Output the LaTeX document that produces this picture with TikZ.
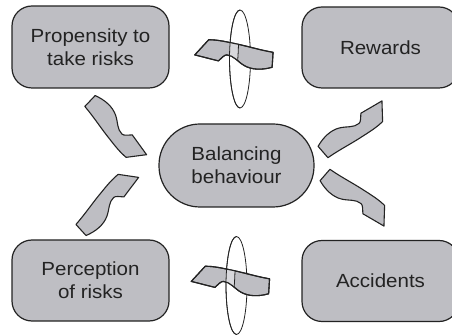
\documentclass[tikz,border=0pt]{standalone}
\usepackage{fontspec}
\setmainfont[FakeStretch=1.08]{Liberation Sans}
\usepackage{tikz}
\usepackage{xcolor}
\usetikzlibrary{positioning}

\definecolor{boxgray}{RGB}{190,190,195}
\definecolor{loopgray}{RGB}{216,216,220}
\definecolor{inkgray}{RGB}{35,35,35}

% wavy block arrow, tail at the origin, tip at (78,0)
\newcommand{\wavepath}{(0,-7.5) .. controls (10,-11) and (20,-11.5) .. (28,-7.5)
  .. controls (35,-4) and (39,2) .. (46,2) .. controls (48.5,2) and (51,-1.5) .. (54,-4.5)
  -- (78,0) -- (65,16) .. controls (57,16.5) and (50,15.5) .. (40,14)
  .. controls (28,12.5) and (14,9) .. (0,7.5) -- cycle}

\tikzset{
  arrow body/.style={fill=boxgray, draw=inkgray, line width=1.1pt, line join=round},
  arrow outline/.style={draw=inkgray, line width=1.1pt, line join=round},
  loop ring/.style={draw=inkgray, line width=0.8pt},
  wave arrow/.pic={\filldraw[arrow body] \wavepath;},
  loop arrow/.pic={
    % ring behind the band
    \draw[loop ring] (0,0) ellipse [x radius=10.5, y radius=49];
    \pic[rotate=176.4] at (32.6,0.8) {wave arrow};
    % lighter strip inside the ring
    \begin{scope}
      \clip[shift={(32.6,0.8)}, rotate=176.4] \wavepath;
      \clip (0,0) ellipse [x radius=10.5, y radius=49];
      \fill[loopgray] (-12,-30) -- (-1.6,-30) .. controls (-1.2,-10) and (-2,-3) .. (-3,10) -- (-12,10) -- cycle;
      \draw[loop ring] (-1.6,-30) .. controls (-1.2,-10) and (-2,-3) .. (-3,10);
    \end{scope}
    \draw[arrow outline, shift={(32.6,0.8)}, rotate=176.4] \wavepath;
    % front half of the ring
    \begin{scope}
      \clip (-12,-50) rectangle (0,50);
      \draw[loop ring] (0,0) ellipse [x radius=10.5, y radius=49];
    \end{scope}
  }
}

\begin{document}
\begin{tikzpicture}[x=1pt, y=-1pt]
  \tikzstyle{riskbox}=[draw=inkgray, fill=boxgray, line width=1.2pt, rounded corners=20,
    inner sep=0pt, align=center, text=inkgray, font=\fontsize{19}{23}\selectfont,
    minimum width=157, minimum height=81];

  \useasboundingbox (0,0) rectangle (452,336);

  % Boxes
  \node[riskbox, minimum height=82] (propensity) at (90.5,47) {Propensity to\\take risks};
  \node[riskbox] (rewards) at (380.5,47.5) {Rewards};
  \node[riskbox] (perception) at (90.5,280.5) {Perception\\of risks};
  \node[riskbox] (accidents) at (380.5,281) {Accidents};
  \node[riskbox, rounded corners=41, minimum width=155, minimum height=83] (balancing) at (236.5,165.5) {Balancing\\behaviour};

  % Tails of the wavy arrows
  \coordinate (t1) at (90,101);
  \coordinate (t2) at (323,152);
  \coordinate (t3) at (81,230);
  \coordinate (t4) at (325,175);

  % Wavy arrows round the centre
  \pic[rotate=-43.5] at (t1) {wave arrow};
  \pic[rotate=40.9] at (t2) {wave arrow};
  \pic[rotate=42.4, yscale=-1] at (t3) {wave arrow};
  \pic[rotate=-40.9, yscale=-1] at (t4) {wave arrow};

  % Arrows through the rings
  \coordinate (ring1) at (240,59);
  \coordinate (ring2) at (236.5,285.5);
  \pic at (ring1) {loop arrow};
  \pic at (ring2) {loop arrow};
\end{tikzpicture}
\end{document}
